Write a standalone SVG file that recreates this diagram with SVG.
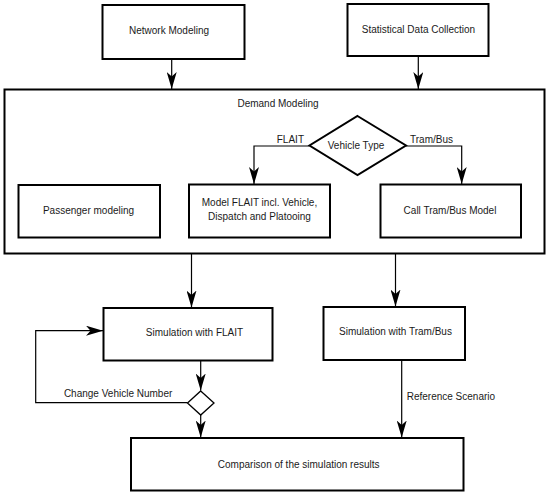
<svg xmlns="http://www.w3.org/2000/svg" width="550" height="495" viewBox="0 0 550 495">
<defs>
<style>
.box{fill:#fff;stroke:#000;stroke-width:2}
.con{fill:none;stroke:#000;stroke-width:1.2}
text{font-family:"Liberation Sans",Arial,sans-serif;font-size:10px;fill:#1a1a1a}
.c{text-anchor:middle}
</style>
<marker id="arr" viewBox="0 0 17 10" refX="17" refY="5" markerWidth="17" markerHeight="10" markerUnits="userSpaceOnUse" orient="auto">
<path d="M0,0 L17,5 L0,10 L4.5,5 Z" fill="#000"/>
</marker>
</defs>
<rect width="550" height="495" fill="#fff"/>
<g id="network-modeling">
<rect class="box" x="102.5" y="5" width="142" height="54"/>
<text class="c" x="169" y="33.5">Network Modeling</text>
</g>
<g id="statistical-data">
<rect class="box" x="347.5" y="4" width="141" height="52"/>
<text class="c" x="418.5" y="33">Statistical Data Collection</text>
</g>
<g id="demand-modeling">
<rect class="box" x="4.5" y="89.5" width="540" height="164"/>
<text class="c" x="278" y="107">Demand Modeling</text>
</g>
<g id="vehicle-type">
<polygon class="box" points="357.5,116 406,145.5 357.5,175 309.5,145.5"/>
<text class="c" x="356" y="148.5">Vehicle Type</text>
</g>
<g id="passenger-modeling">
<rect class="box" x="18.5" y="185" width="141.5" height="52.5"/>
<text class="c" x="88.5" y="214">Passenger modeling</text>
</g>
<g id="model-flait">
<rect class="box" x="189" y="184.5" width="141" height="53"/>
<text class="c" x="259.5" y="206">Model FLAIT incl. Vehicle,</text>
<text class="c" x="259.5" y="219.5">Dispatch and Platooing</text>
</g>
<g id="call-tram-bus">
<rect class="box" x="380.5" y="184.5" width="140.5" height="53"/>
<text class="c" x="450" y="214">Call Tram/Bus Model</text>
</g>
<g id="sim-flait">
<rect class="box" x="103.5" y="308" width="169" height="52.5"/>
<text class="c" x="194.5" y="336">Simulation with FLAIT</text>
</g>
<g id="sim-tram-bus">
<rect class="box" x="323.5" y="307" width="141.5" height="53"/>
<text class="c" x="395.5" y="335">Simulation with Tram/Bus</text>
</g>
<g id="decision">
<polygon class="box" style="stroke-width:1.3" points="200.7,391 214,403 200.7,415 187.5,403"/>
</g>
<g id="comparison">
<rect class="box" x="131" y="438" width="332.5" height="52.5"/>
<text class="c" x="298.7" y="467.5">Comparison of the simulation results</text>
</g>
<g id="connectors">
<line class="con" x1="171.7" y1="59" x2="171.7" y2="89" marker-end="url(#arr)"/>
<line class="con" x1="418.3" y1="56" x2="418.3" y2="89" marker-end="url(#arr)"/>
<polyline class="con" points="309.5,146 254,146 254,184" marker-end="url(#arr)"/>
<polyline class="con" points="406,146 461.7,146 461.7,184" marker-end="url(#arr)"/>
<line class="con" x1="191.5" y1="254" x2="191.5" y2="307.5" marker-end="url(#arr)"/>
<line class="con" x1="395.5" y1="254" x2="395.5" y2="306.5" marker-end="url(#arr)"/>
<line class="con" x1="200.7" y1="361" x2="200.7" y2="390.5" marker-end="url(#arr)"/>
<polyline class="con" points="187.5,402.7 35.7,402.7 35.7,330.7 103,330.7" marker-end="url(#arr)"/>
<line class="con" x1="200.7" y1="415" x2="200.7" y2="437.5" marker-end="url(#arr)"/>
<line class="con" x1="401.7" y1="360.5" x2="401.7" y2="437.5" marker-end="url(#arr)"/>
<text x="304" y="142.7" text-anchor="end">FLAIT</text>
<text x="410" y="142.7">Tram/Bus</text>
<text x="172.3" y="397.3" text-anchor="end">Change Vehicle Number</text>
<text x="406.7" y="400">Reference Scenario</text>
</g>
</svg>
